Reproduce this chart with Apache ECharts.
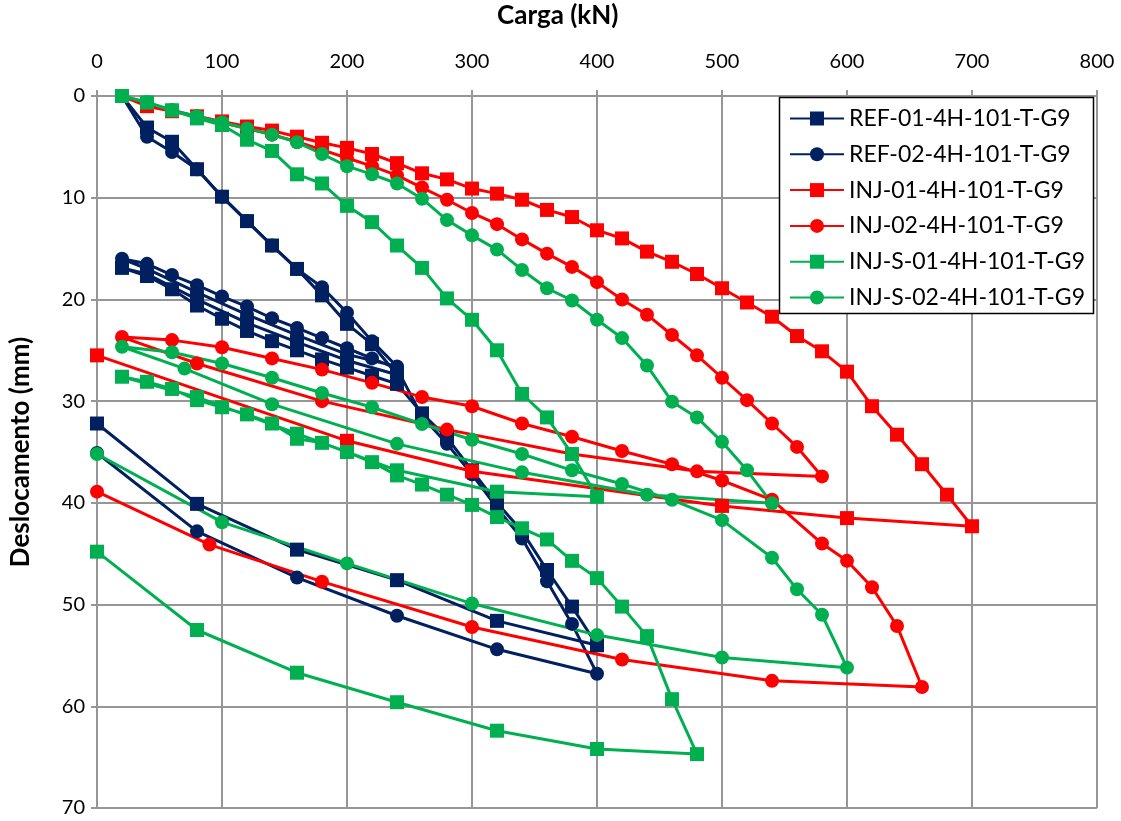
<!DOCTYPE html>
<html>
<head>
<meta charset="utf-8">
<script src="https://cdn.jsdelivr.net/npm/echarts@6/dist/echarts.min.js"></script>
<style>
  html, body { margin: 0; padding: 0; background: #ffffff; }
  #chart { width: 1121px; height: 821px; }
</style>
</head>
<body>
<div id="chart"></div>
<script>
// Load (kN) vs displacement (mm) for each pull-out test, in recorded order
// (loading, unloading and reloading branches).

const seriesNames = [
  'REF-01-4H-101-T-G9', 'REF-02-4H-101-T-G9',
  'INJ-01-4H-101-T-G9', 'INJ-02-4H-101-T-G9',
  'INJ-S-01-4H-101-T-G9', 'INJ-S-02-4H-101-T-G9'
];

const ref01Load = [20,40,60,80,100,120,140,160,180,200,220,240, 200,160,120,80,40,20,
  40,60,80,100,120,140,160,180,200,220,240,260,280,300,320,340,360,380,400, 320,240,160,80,0];
const ref01Disp = [0,3.1,4.5,7.2,9.9,12.3,14.7,17.0,19.6,22.4,24.4,27.4, 26.0,24.2,22.3,20.0,17.5,16.9,
  17.7,19.0,20.6,21.9,23.1,24.1,25.0,25.9,26.7,27.5,28.3,31.2,33.6,36.8,40.0,42.8,46.6,50.2,54.0, 51.6,47.6,44.6,40.1,32.2];

const ref02Load = [20,40,60,80,100,120,140,160,180,200,220,240, 200,160,120,80,40,20,
  40,60,80,100,120,140,160,180,200,220,240,260,280,300,320,340,360,380,400, 320,240,160,80,0];
const ref02Disp = [0,4.0,5.5,7.2,9.9,12.3,14.7,17.0,18.8,21.3,24.1,26.6, 25.4,23.5,21.5,19.3,17.0,16.0,
  16.5,17.6,18.6,19.7,20.7,21.85,22.8,23.8,24.8,25.8,26.8,31.5,34.2,37.2,40.5,43.5,47.7,51.9,56.8, 54.4,51.1,47.35,42.8,35.1];

const inj01Load = [20,40,60,80,100,120,140,160,180,200,220,240,260,280,300,320,340,360,380,400,
  420,440,460,480,500,520,540,560,580,600,620,640,660,680,700, 600,500,300,200,0];
const inj01Disp = [0,1.0,1.5,2.0,2.5,3.0,3.4,4.0,4.6,5.1,5.7,6.6,7.6,8.2,9.1,9.6,10.2,11.2,11.9,13.2,
  14.0,15.3,16.3,17.5,18.9,20.3,21.7,23.6,25.1,27.1,30.5,33.3,36.2,39.2,42.3, 41.5,40.3,36.9,33.9,25.5];

const inj02Load = [20,40,60,80,100,120,140,160,180,200,220,240,260,280,300,320,340,360,380,400,
  420,440,460,480,500,520,540,560,580, 480,380,280,180,80,20,
  60,100,140,180,220,260,300,340,380,420,460,500,540,580,600,620,640,660, 540,420,300,180,90,0];
const inj02Disp = [0,0.8,1.4,2.0,2.6,3.2,3.8,4.5,5.3,6.1,6.9,7.8,9.0,10.2,11.5,12.6,14.1,15.5,16.8,18.3,
  20.0,21.5,23.5,25.5,27.7,29.9,32.2,34.5,37.4, 36.9,35.2,32.8,30.0,26.3,23.7,
  24.0,24.7,25.8,26.9,28.2,29.6,30.5,32.2,33.5,34.9,36.2,37.8,39.7,44.0,45.7,48.3,52.1,58.1, 57.5,55.4,52.2,47.75,44.1,38.9];

const injS01Load = [20,40,60,80,100,120,140,160,180,200,220,240,260,280,300,320,340,360,380,400,
  320,240,160,80,20,
  40,60,80,100,120,140,160,180,200,220,240,260,280,300,320,340,360,380,400,420,440,460,480,
  400,320,240,160,80,0];
const injS01Disp = [0,0.65,1.4,2.2,2.85,4.3,5.4,7.7,8.6,10.8,12.4,14.7,16.9,19.9,22.0,25.0,29.3,31.6,35.2,39.4,
  38.9,36.8,33.2,29.6,27.6,
  28.1,28.8,29.9,30.6,31.3,32.2,33.7,34.1,35.0,36.0,37.3,38.2,39.2,40.2,41.4,42.5,43.6,45.7,47.4,50.2,53.1,59.3,64.7,
  64.2,62.4,59.6,56.7,52.5,44.8];

const injS02Load = [20,40,60,80,100,120,140,160,180,200,220,240,260,280,300,320,340,360,380,400,
  420,440,460,480,500,520,540, 440,340,240,140,70,20,
  60,100,140,180,220,260,300,340,380,420,460,500,540,560,580,600, 500,400,300,200,100,0];
const injS02Disp = [0,0.6,1.4,2.0,2.6,3.2,3.8,4.55,5.7,6.9,7.7,8.6,10.1,12.2,13.7,15.1,17.1,18.9,20.1,22.0,
  23.8,26.5,30.05,31.6,34.0,36.8,40.05, 39.2,37.0,34.2,30.3,26.8,24.65,
  25.2,26.3,27.7,29.2,30.6,32.25,33.8,35.2,36.8,38.15,39.7,41.7,45.4,48.5,51.0,56.2, 55.2,53.0,49.9,45.95,41.9,35.2];

const loadTicks = [0, 100, 200, 300, 400, 500, 600, 700, 800];
const dispTicks = [0, 10, 20, 30, 40, 50, 60, 70];

const NAVY = '#002060', RED = '#FF0000', GREEN = '#00B050';
const FONT = 'Lato, "Liberation Sans", sans-serif';

function pairs(xs, ys) { return xs.map((x, i) => [x, ys[i]]); }

function testSeries(name, xs, ys, color, symbol) {
  return {
    name: name,
    type: 'line',
    data: pairs(xs, ys),
    symbol: symbol,
    symbolSize: 14,
    showAllSymbol: true,
    color: color,
    itemStyle: { color: color },
    lineStyle: { color: color, width: 3 },
    emphasis: { disabled: true },
    animation: false
  };
}

const chart = echarts.init(document.getElementById('chart'), null, { renderer: 'canvas' });

chart.setOption({
  animation: false,
  backgroundColor: '#ffffff',
  textStyle: { fontFamily: FONT },
  title: {
    text: 'Carga (kN)',
    left: 497,
    top: 3,
    padding: 0,
    textStyle: { fontFamily: FONT, fontSize: 26, fontWeight: 'bold', color: '#000' }
  },
  grid: { left: 97, right: 24, top: 96, bottom: 13, outerBoundsMode: 'none' },
  xAxis: {
    type: 'value',
    position: 'top',
    min: loadTicks[0],
    max: loadTicks[loadTicks.length - 1],
    interval: 100,
    axisLine: { show: true, lineStyle: { color: '#969696', width: 2 } },
    axisTick: { show: true, length: 6, lineStyle: { color: '#969696', width: 2 } },
    axisLabel: { fontFamily: FONT, fontSize: 20, color: '#000', margin: 24 },
    splitLine: { show: true, lineStyle: { color: '#969696', width: 2 } }
  },
  yAxis: {
    type: 'value',
    inverse: true,
    min: dispTicks[0],
    max: dispTicks[dispTicks.length - 1],
    interval: 10,
    name: 'Deslocamento (mm)',
    nameLocation: 'middle',
    nameGap: 63,
    nameTextStyle: { fontFamily: FONT, fontSize: 26, fontWeight: 'bold', color: '#000' },
    axisLine: { show: true, lineStyle: { color: '#969696', width: 2 } },
    axisTick: { show: true, length: 6, lineStyle: { color: '#969696', width: 2 } },
    axisLabel: { fontFamily: FONT, fontSize: 20, color: '#000', margin: 12 },
    splitLine: { show: true, lineStyle: { color: '#969696', width: 2 } }
  },
  graphic: [{
    type: 'rect',
    z: 3,
    shape: { x: 779.5, y: 97.5, width: 314, height: 216 },
    style: { fill: '#ffffff', stroke: '#000000', lineWidth: 1.5 }
  }],
  legend: {
    orient: 'vertical',
    left: 780,
    top: 98,
    padding: [9, 8, 8, 9],
    itemWidth: 54,
    itemHeight: 17.5,
    itemGap: 12.8,
    z: 5,
    textStyle: { fontFamily: FONT, fontSize: 23, color: '#000', lineHeight: 22 },
    data: seriesNames
  },
  series: [
    testSeries(seriesNames[0], ref01Load, ref01Disp, NAVY, 'rect'),
    testSeries(seriesNames[1], ref02Load, ref02Disp, NAVY, 'circle'),
    testSeries(seriesNames[2], inj01Load, inj01Disp, RED, 'rect'),
    testSeries(seriesNames[3], inj02Load, inj02Disp, RED, 'circle'),
    testSeries(seriesNames[4], injS01Load, injS01Disp, GREEN, 'rect'),
    testSeries(seriesNames[5], injS02Load, injS02Disp, GREEN, 'circle')
  ]
});
</script>
</body>
</html>
